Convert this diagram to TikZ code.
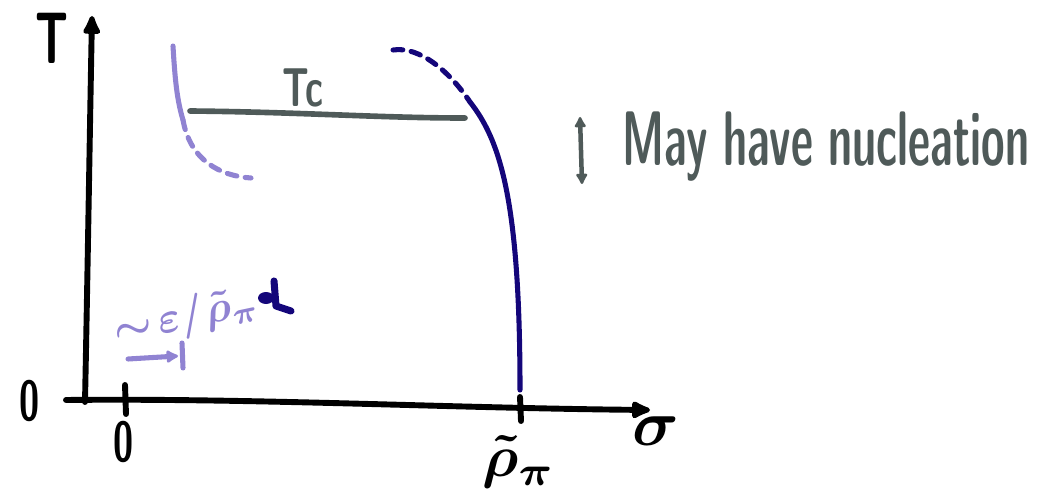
\documentclass[tikz,border=0pt]{standalone}
\usepackage{amsmath,amssymb}
\usepackage{xcolor}
\usepackage{tikz}
\usetikzlibrary{arrows.meta,positioning}
\definecolor{coldblue}{HTML}{14067A}
\definecolor{hotlilac}{HTML}{9083D2}
\definecolor{tcgrey}{HTML}{4F5A59}

\begin{document}
\begin{tikzpicture}[x=0.025cm,y=-0.025cm,
  axisline/.style={line width=4.2pt,line cap=round,black},
  axistip/.style={-{Latex[length=17pt,width=15pt,round]}},
  pen/.style={line width=3.6pt,line cap=round},
  dashpen/.style={pen,dash pattern=on 7pt off 6pt},
  hand/.style={font=\sffamily\bfseries,inner sep=0pt}]
  % Sketch of the phase diagram in the (sigma, T) plane, pixel units
  \useasboundingbox (0,0) rectangle (1044,504);
  % --- Axes ---
  \coordinate (ybot) at (85,402);
  \coordinate (ytop) at (92,16);
  \coordinate (xlft) at (66,400);
  \coordinate (xrgt) at (650,410);
  \draw[axisline,axistip] (ybot) .. controls (88,250) and (90,120) .. (ytop);
  \draw[axisline,axistip] (xlft) .. controls (250,398) and (450,408) .. (xrgt);
  % ticks at 0 and at rho_pi
  \coordinate (tzup) at (125,385);
  \coordinate (tzdn) at (126,414);
  \coordinate (trup) at (520,397);
  \coordinate (trdn) at (521,421);
  \draw[axisline] (tzup) -- (tzdn);
  \draw[axisline] (trup) -- (trdn);
  % axis labels
  \node[hand,xscale=3.2,yscale=5.2] (lblT) at (52,38) {T};
  \node[hand,xscale=2.6,yscale=4.0] (lblO) at (30,401) {0};
  \node[hand,xscale=2.6,yscale=4.0] (lblzero) at (124,442) {0};
  \node[scale=4.6] (lblsigma) at (656,431) {$\boldsymbol{\sigma}$};
  \node[scale=4.2] (lblrho) at (519,462) {$\boldsymbol{\tilde{\rho}_{\pi}}$};
  % --- Lilac branch (solid, then dashed) ---
  \coordinate (hs) at (173,46);
  \coordinate (hm) at (183,120);
  \coordinate (he) at (251,178);
  \draw[pen,hotlilac] (hs) .. controls (175,80) and (177,100) .. (hm);
  \draw[dashpen,hotlilac] (hm) .. controls (190,160) and (220,176) .. (he);
  % --- Navy branch (dashed, then solid) ---
  \coordinate (cs) at (393,50);
  \coordinate (cm) at (470,102);
  \coordinate (ce) at (520,390);
  \draw[dashpen,coldblue] (cs) .. controls (420,46) and (450,72) .. (cm);
  \draw[pen,coldblue] (cm) .. controls (500,140) and (520,200) .. (ce);
  % --- Tc line ---
  \coordinate (tcl) at (190,111);
  \coordinate (tcr) at (465,118);
  \draw[pen,tcgrey,line width=4pt] (tcl) .. controls (300,112) and (380,118) .. (tcr);
  \node[hand,tcgrey,xscale=2.6,yscale=3.9] (lblTc) at (303,88) {Tc};
  % --- Nucleation window ---
  \coordinate (nup) at (580,117);
  \coordinate (ndn) at (582,184);
  \draw[pen,tcgrey,line width=3.2pt,
    {Latex[length=9pt,width=10pt,round]}-{Latex[length=9pt,width=10pt,round]}]
    (nup) -- (ndn);
  \node[hand,tcgrey,anchor=base west,xscale=3.05,yscale=5.5] (lblnuc)
    at (622,166) {May have nucleation};
  % --- Scale eps / rho_pi ---
  \node[hotlilac,rotate=12,scale=3.1] (lbleps) at (186,318)
    {$\boldsymbol{\sim\!\varepsilon/\tilde{\rho}_{\pi}}$};
  \coordinate (ea) at (128,359);
  \coordinate (eb) at (178,356);
  \coordinate (ebt) at (182,343);
  \coordinate (ebb) at (183,368);
  \draw[pen,hotlilac,-{Latex[length=10pt,width=11pt,round]}] (ea) -- (eb);
  \draw[pen,hotlilac] (ebt) -- (ebb);
  % navy mark
  \coordinate (mk) at (266,298);
  \fill[coldblue] (mk) ellipse (8 and 6);
  \draw[coldblue,line width=5pt,line cap=round,line join=round]
    (274,281) -- (276,306) -- (291,311);
\end{tikzpicture}
\end{document}
